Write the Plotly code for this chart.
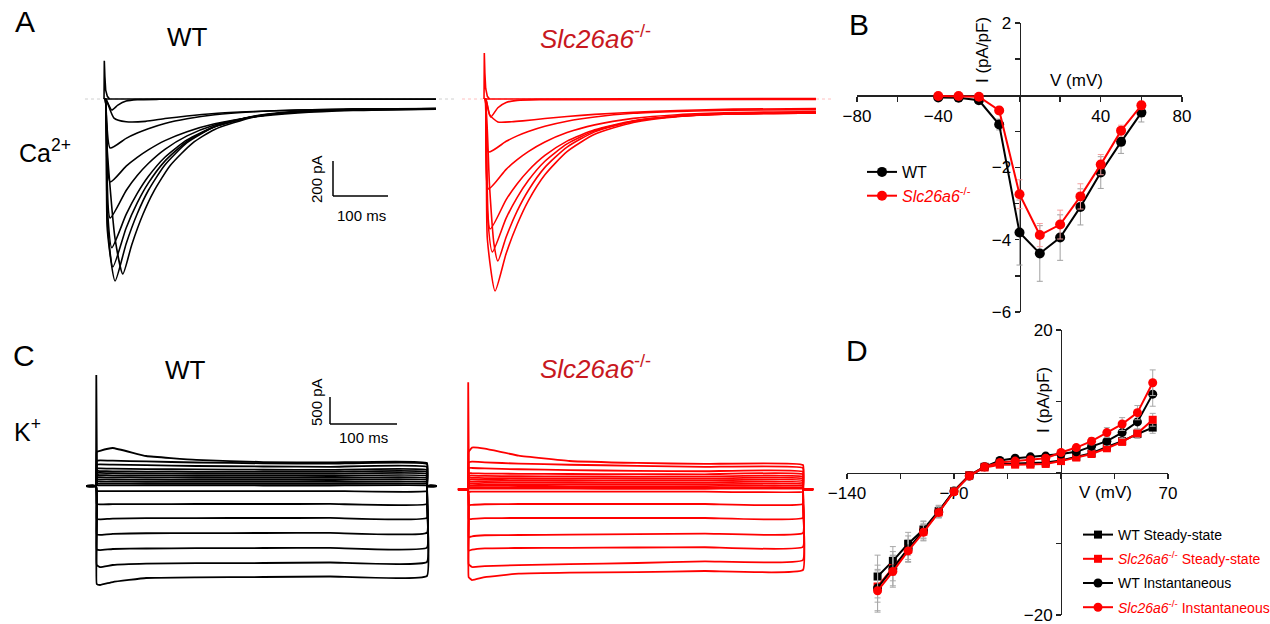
import plotly.graph_objects as go

# ---------------- data ----------------
# Panel A: Ca2+ current traces (time ms, current pA)
G = [40, 60, 80, 110, 150, 200, 270, 350, 450, 600]
CA_WT_T = [
    [0, 3, 20, 600],
    [0, 3, 14, 25, 40, 60, 100, 600],
    [0, 3, 18, 40, 75, 110, 150, 200, 270, 350, 450, 600],
    [0, 2, 11] + G,
    [0, 2, 11] + G,
    [0, 2, 11] + G,
    [0, 2, 6, 14] + G,
    [0, 2, 6, 16] + G,
    [0, 2, 6, 20] + G,
    [0, 2, 6, 20, 34, 50, 70, 90, 120, 160, 200, 270, 350, 450, 600],
]
CA_WT_I = [
    [0, 0, 0, 0],
    [0, 0, -63, -35, -12, -4, -2, -2],
    [0, 0, -109, -130, -128, -112, -97, -83, -72, -63, -58, -55],
    [0, 0, -280, -225, -195, -170, -140, -113, -90, -73, -63, -58, -56],
    [0, 0, -474, -384, -334, -291, -238, -187, -142, -103, -80, -66, -58],
    [0, 0, -680, -523, -438, -369, -288, -211, -149, -102, -76, -63, -57],
    [0, 0, -620, -850, -660, -540, -443, -333, -234, -158, -102, -74, -61, -56],
    [0, 0, -700, -960, -737, -594, -481, -355, -242, -159, -100, -73, -60, -56],
    [0, 0, -750, -1040, -827, -656, -523, -377, -250, -159, -99, -71, -60, -55],
    [0, 0, -300, -800, -1000, -834, -662, -528, -379, -252, -174, -104, -73, -61, -55],
]
CA_KO_T = [
    [0, 3, 20, 600],
    [0, 3, 12, 25, 40, 60, 100, 600],
    [0, 3, 10, 25, 50, 70, 110, 150, 200, 270, 350, 450, 600],
    [0, 2, 8] + G,
    [0, 2, 8] + G,
    [0, 2, 11] + G,
    [0, 2, 6, 15] + G,
    [0, 2, 10, 18, 25] + G,
    [0, 2, 6, 20] + G,
]
CA_KO_I = [
    [0, 0, 0, 3],
    [0, 0, -103, -50, -20, -8, -4, -3],
    [0, 0, -90, -131, -130, -125, -112, -100, -88, -76, -66, -58, -55],
    [0, 0, -303, -242, -211, -186, -156, -127, -103, -82, -71, -64, -61],
    [0, 0, -514, -402, -347, -301, -246, -192, -148, -111, -90, -78, -72],
    [0, 0, -743, -575, -484, -410, -323, -241, -176, -125, -98, -83, -77],
    [0, 0, -650, -874, -681, -562, -466, -356, -257, -182, -127, -99, -86, -80],
    [0, 0, -500, -830, -926, -789, -640, -523, -391, -275, -188, -127, -99, -86, -80],
    [0, 0, -800, -1097, -883, -716, -582, -433, -301, -202, -134, -101, -86, -80],
]
SPIKE_T = [0, 0.5, 1.5, 3, 6, 10]
SPIKE_WT = [0, 218, 130, 50, 15, 0]
SPIKE_KO = [0, 263, 150, 60, 15, 0]

# Panel C: K+ current traces (time ms, current pA)
K_T = [-15, 0, 1, 6, 25, 75, 150, 250, 350, 495, 495.5, 510]
K_WT = [
    [0, 0, -1835, -1854, -1798, -1723, -1710, -1704, -1695, -1685, 0, 0],
    [0, 0, -1479, -1517, -1479, -1455, -1445, -1442, -1432, -1423, 0, 0],
    [0, 0, -1186, -1200, -1180, -1170, -1165, -1161, -1158, -1155, 0, 0],
    [0, 0, -908, -915, -895, -885, -882, -880, -878, -875, 0, 0],
    [0, 0, -618, -625, -610, -603, -600, -599, -598, -596, 0, 0],
    [0, 0, -337, -345, -340, -338, -337, -337, -336, -335, 0, 0],
    [0, 0, -94, -96, -95, -94, -94, -94, -94, -94, 0, 0],
    [0, 0, 637, 660, 712, 562, 490, 449, 440, 431, 0, 0],
    [0, 0, 470, 480, 475, 460, 440, 425, 418, 412, 0, 0],
    [0, 0, 400, 405, 400, 390, 375, 365, 360, 356, 0, 0],
    [0, 0, 330, 330, 325, 318, 310, 305, 302, 300, 0, 0],
    [0, 0, 280, 280, 276, 270, 266, 264, 263, 262, 0, 0],
    [0, 0, 245, 245, 240, 234, 230, 228, 226, 225, 0, 0],
    [0, 0, 205, 205, 200, 195, 191, 189, 188, 187, 0, 0],
    [0, 0, 165, 165, 162, 158, 155, 152, 151, 150, 0, 0],
    [0, 0, 125, 125, 122, 118, 115, 114, 113, 112, 0, 0],
    [0, 0, 85, 85, 83, 80, 78, 77, 76, 75, 0, 0],
    [0, 0, 45, 45, 44, 42, 41, 41, 40, 40, 0, 0],
    [0, 0, 12, 12, 12, 11, 11, 10, 10, 10, 0, 0],
]
K_KO = [
    [0, 0, -1644, -1699, -1644, -1580, -1560, -1550, -1530, -1511, 0, 0],
    [0, 0, -1400, -1455, -1440, -1420, -1400, -1380, -1350, -1324, 0, 0],
    [0, 0, -1150, -1130, -1105, -1099, -1095, -1090, -1085, -1080, 0, 0],
    [0, 0, -900, -880, -860, -856, -850, -840, -830, -818, 0, 0],
    [0, 0, -560, -555, -540, -537, -537, -537, -537, -537, 0, 0],
    [0, 0, -300, -290, -280, -275, -275, -275, -275, -275, 0, 0],
    [0, 0, -45, -45, -45, -45, -45, -45, -45, -45, 0, 0],
    [0, 0, 700, 780, 760, 630, 530, 493, 475, 455, 0, 0],
    [0, 0, 498, 517, 505, 480, 460, 440, 420, 399, 0, 0],
    [0, 0, 400, 399, 390, 375, 360, 345, 338, 330, 0, 0],
    [0, 0, 300, 300, 295, 290, 286, 283, 281, 280, 0, 0],
    [0, 0, 255, 255, 250, 245, 241, 239, 237, 236, 0, 0],
    [0, 0, 215, 215, 211, 207, 204, 202, 201, 200, 0, 0],
    [0, 0, 180, 180, 176, 172, 169, 167, 166, 165, 0, 0],
    [0, 0, 140, 140, 137, 134, 132, 131, 130, 130, 0, 0],
    [0, 0, 100, 100, 98, 97, 96, 96, 95, 95, 0, 0],
    [0, 0, 65, 65, 63, 62, 61, 61, 60, 60, 0, 0],
    [0, 0, 35, 35, 33, 32, 31, 31, 30, 30, 0, 0],
    [0, 0, 12, 12, 12, 11, 11, 10, 10, 10, 0, 0],
]
KSPIKE_T = [0, 0.4, 1.5]
KSPIKE_WT = [0, 2079, 0]
KSPIKE_KO = [0, 2004, 0]

# Panel B: Ca2+ I-V
V_B = [-40, -30, -20, -10, 0, 10, 20, 30, 40, 50, 60]
B_WT = [-0.06, -0.07, -0.14, -0.81, -3.80, -4.38, -3.94, -3.09, -2.14, -1.29, -0.48]
B_WT_ERR = [0.03, 0.03, 0.05, 0.15, 0.9, 0.77, 0.63, 0.5, 0.44, 0.32, 0.26]
B_KO = [-0.02, -0.02, -0.04, -0.42, -2.74, -3.87, -3.58, -2.80, -1.92, -0.98, -0.28]
B_KO_ERR = [0.02, 0.02, 0.03, 0.1, 0.4, 0.32, 0.4, 0.35, 0.28, 0.15, 0.11]
B_XTICKS = [-80, -40, 40, 80]
B_XMINOR = [-60, -20, 0, 20, 60]
B_YTICKS = [-6, -4, -2, 2]
B_YMINOR = [-5, -3, -1, 0, 1]

# Panel D: K+ I-V
V_D = [-120, -110, -100, -90, -80, -70, -60, -50, -40, -30, -20, -10, 0, 10, 20, 30, 40, 50, 60]
D_WT_SS = [-14.6, -12.4, -10.0, -8.0, -5.4, -2.6, -0.4, 0.8, 1.2, 1.3, 1.3, 1.4, 1.7, 2.2, 2.7, 3.6, 4.4, 5.4, 6.3]
D_KO_SS = [-16.0, -13.4, -10.8, -8.3, -5.6, -2.6, -0.4, 0.7, 1.1, 1.1, 1.1, 1.2, 1.6, 2.1, 2.6, 3.4, 4.3, 5.5, 7.4]
D_WT_IN = [-16.2, -13.5, -10.7, -8.2, -5.5, -2.6, -0.5, 0.8, 1.7, 2.0, 2.2, 2.3, 2.6, 2.9, 3.7, 4.4, 5.6, 7.1, 11.0]
D_KO_IN = [-16.6, -13.9, -11.0, -8.4, -5.6, -2.7, -0.5, 0.8, 1.4, 1.6, 1.8, 2.0, 2.8, 3.5, 4.4, 5.6, 6.8, 8.4, 12.6]
D_WT_SS_ERR = [3.0, 2.0, 1.6, 1.2, 0.8, 0.5, 0.3, 0.3, 0.3, 0.3, 0.3, 0.3, 0.3, 0.3, 0.3, 0.4, 0.5, 0.6, 0.8]
D_KO_SS_ERR = [2.2, 1.8, 1.4, 1.0, 0.7, 0.5, 0.3, 0.3, 0.3, 0.3, 0.3, 0.3, 0.3, 0.3, 0.3, 0.4, 0.5, 0.6, 0.9]
D_WT_IN_ERR = [3.2, 2.4, 1.8, 1.3, 0.8, 0.5, 0.3, 0.3, 0.3, 0.3, 0.3, 0.3, 0.3, 0.4, 0.5, 0.6, 0.8, 1.0, 1.7]
D_KO_IN_ERR = [3.0, 2.2, 1.6, 1.2, 0.8, 0.5, 0.3, 0.3, 0.3, 0.3, 0.3, 0.3, 0.3, 0.4, 0.5, 0.7, 0.9, 1.0, 1.8]
D_XTICKS = [-140, -70, 70]
D_XMINOR = [-105, -35, 0, 35]
D_YTICKS = [-20, 20]
D_YMINOR = [-10, 0, 10]

KO_NAME = "<i>Slc26a6</i><sup>-/-</sup>"

# ---------------- layout helpers ----------------
W, H = 1270, 624
FONT = "Liberation Sans, Arial, sans-serif"
RED = "#ff0000"
DARKRED = "#c8181e"


def px(x):
    return x / W


def py(y):
    return 1 - y / H


def xdom(a, b):
    return [px(a), px(b)]


def ydom(top, bottom):
    return [py(bottom), py(top)]


fig = go.Figure()

# Panel A traces
for t, i in zip(CA_WT_T, CA_WT_I):
    fig.add_trace(go.Scatter(x=t, y=i, mode="lines", xaxis="x", yaxis="y",
                             line=dict(color="#000", width=1.6, shape="spline", smoothing=0.6),
                             showlegend=False, hoverinfo="skip"))
fig.add_trace(go.Scatter(x=SPIKE_T, y=SPIKE_WT, mode="lines", xaxis="x", yaxis="y",
                         line=dict(color="#000", width=1.6), showlegend=False, hoverinfo="skip"))
for t, i in zip(CA_KO_T, CA_KO_I):
    fig.add_trace(go.Scatter(x=t, y=i, mode="lines", xaxis="x2", yaxis="y2",
                             line=dict(color=RED, width=1.6, shape="spline", smoothing=0.6),
                             showlegend=False, hoverinfo="skip"))
fig.add_trace(go.Scatter(x=SPIKE_T, y=SPIKE_KO, mode="lines", xaxis="x2", yaxis="y2",
                         line=dict(color=RED, width=1.6), showlegend=False, hoverinfo="skip"))

# Panel C traces
for i in K_WT:
    fig.add_trace(go.Scatter(x=K_T, y=i, mode="lines", xaxis="x4", yaxis="y4",
                             line=dict(color="#000", width=1.8, shape="spline", smoothing=0.3),
                             showlegend=False, hoverinfo="skip"))
fig.add_trace(go.Scatter(x=KSPIKE_T, y=KSPIKE_WT, mode="lines", xaxis="x4", yaxis="y4",
                         line=dict(color="#000", width=1.8), showlegend=False, hoverinfo="skip"))
for i in K_KO:
    fig.add_trace(go.Scatter(x=K_T, y=i, mode="lines", xaxis="x5", yaxis="y5",
                             line=dict(color=RED, width=1.8, shape="spline", smoothing=0.3),
                             showlegend=False, hoverinfo="skip"))
fig.add_trace(go.Scatter(x=KSPIKE_T, y=KSPIKE_KO, mode="lines", xaxis="x5", yaxis="y5",
                         line=dict(color=RED, width=1.8), showlegend=False, hoverinfo="skip"))

# Panel B
fig.add_trace(go.Scatter(x=V_B, y=B_WT, mode="lines+markers", xaxis="x3", yaxis="y3",
                         name="WT", legend="legend",
                         line=dict(color="#000", width=2), marker=dict(size=10, color="#000"),
                         error_y=dict(type="data", array=B_WT_ERR, color="#a0a0a0", thickness=1, width=3)))
fig.add_trace(go.Scatter(x=V_B, y=B_KO, mode="lines+markers", xaxis="x3", yaxis="y3",
                         name="<span style='color:#ff0000'>" + KO_NAME + "</span>", legend="legend",
                         line=dict(color=RED, width=2), marker=dict(size=10, color=RED),
                         error_y=dict(type="data", array=B_KO_ERR, color="#f4a0a0", thickness=1, width=3)))

# Panel D
d_series = [
    (D_WT_SS, D_WT_SS_ERR, "#000", "square", 8, "WT Steady-state"),
    (D_KO_SS, D_KO_SS_ERR, RED, "square", 8, "<span style='color:#ff0000'>" + KO_NAME + " Steady-state</span>"),
    (D_WT_IN, D_WT_IN_ERR, "#000", "circle", 9, "WT Instantaneous"),
    (D_KO_IN, D_KO_IN_ERR, RED, "circle", 9, "<span style='color:#ff0000'>" + KO_NAME + " Instantaneous</span>"),
]
for k, (vals, err, col, sym, sz, nm) in enumerate(d_series):
    fig.add_trace(go.Scatter(x=V_D, y=vals, mode="lines+markers", xaxis="x6", yaxis="y6",
                             name=nm, legend="legend2", legendgroup="g%d" % k,
                             line=dict(color=col, width=2), marker=dict(size=sz, color=col, symbol=sym),
                             error_y=dict(type="data", array=err, color="#a8a8a8", thickness=1, width=3)))

hidden = dict(visible=False, showgrid=False, zeroline=False, fixedrange=True)

# I-V axis geometry (pixels)
B_X0, B_X1, B_YT, B_YB = 857, 1182, 23, 312
D_X0, D_X1, D_YT, D_YB = 847, 1168, 330, 615
b_zero_y = B_YT + (B_YB - B_YT) * 2 / 8
b_zero_x = (B_X0 + B_X1) / 2
d_zero_y = (D_YT + D_YB) / 2
d_zero_x = D_X0 + (D_X1 - D_X0) * 140 / 210

iv_axis = dict(showline=True, linecolor="#222", linewidth=1.3, ticks="outside", ticklen=5,
               tickwidth=1.3, tickcolor="#222", showgrid=False, zeroline=False,
               tickfont=dict(size=17, color="#000", family=FONT), layer="below traces",
               fixedrange=True, anchor="free", tickmode="array", ticklabeloverflow="allow")


def minor(vals):
    return dict(tickmode="array", tickvals=vals, ticks="outside", ticklen=5, tickwidth=1.3,
                tickcolor="#222", showgrid=False)


fig.update_layout(
    width=W, height=H, margin=dict(l=0, r=0, t=0, b=0, pad=0, autoexpand=False),
    paper_bgcolor="white", plot_bgcolor="rgba(0,0,0,0)",
    font=dict(family=FONT, color="#000"),
    xaxis=dict(hidden, domain=xdom(98.5, 441.5), range=[-10, 610], anchor="y"),
    yaxis=dict(hidden, domain=ydom(40, 310), range=[-1206, 337], anchor="x"),
    xaxis2=dict(hidden, domain=xdom(478.5, 821.5), range=[-10, 610], anchor="y2"),
    yaxis2=dict(hidden, domain=ydom(40, 310), range=[-1206, 337], anchor="x2"),
    xaxis4=dict(hidden, domain=xdom(86, 437), range=[-15, 510], anchor="y4"),
    yaxis4=dict(hidden, domain=ydom(360, 610), range=[-2322, 2360], anchor="x4"),
    xaxis5=dict(hidden, domain=xdom(457.8, 814.5), range=[-15, 512], anchor="y5"),
    yaxis5=dict(hidden, domain=ydom(360, 610), range=[-2260, 2421], anchor="x5"),
    xaxis3=dict(iv_axis, domain=xdom(B_X0, B_X1), range=[-80, 80], position=py(b_zero_y),
                tickvals=B_XTICKS, minor=minor(B_XMINOR)),
    yaxis3=dict(iv_axis, domain=ydom(B_YT, B_YB), range=[-6, 2], position=px(b_zero_x),
                tickvals=B_YTICKS, minor=minor(B_YMINOR)),
    xaxis6=dict(iv_axis, domain=xdom(D_X0, D_X1), range=[-140, 70], position=py(d_zero_y),
                tickvals=D_XTICKS, minor=minor(D_XMINOR)),
    yaxis6=dict(iv_axis, domain=ydom(D_YT, D_YB), range=[-20, 20], position=px(d_zero_x),
                tickvals=D_YTICKS, minor=minor(D_YMINOR)),
    legend=dict(x=px(862), y=py(155), xanchor="left", yanchor="top",
                font=dict(size=16, family=FONT, color="#000"), bgcolor="rgba(0,0,0,0)",
                itemwidth=30, tracegroupgap=0),
    legend2=dict(x=px(1078), y=py(519), xanchor="left", yanchor="top",
                 font=dict(size=14, family=FONT, color="#000"), bgcolor="rgba(0,0,0,0)",
                 traceorder="grouped", tracegroupgap=3, itemwidth=30),
)

# scale bars & baselines
shapes = [
    dict(type="line", xref="paper", yref="paper", x0=px(333), x1=px(333), y0=py(161), y1=py(196),
         line=dict(color="#000", width=1.5)),
    dict(type="line", xref="paper", yref="paper", x0=px(333), x1=px(388), y0=py(196), y1=py(196),
         line=dict(color="#000", width=1.5)),
    dict(type="line", xref="paper", yref="paper", x0=px(330), x1=px(330), y0=py(397), y1=py(424),
         line=dict(color="#000", width=1.5)),
    dict(type="line", xref="paper", yref="paper", x0=px(330), x1=px(397), y0=py(424), y1=py(424),
         line=dict(color="#000", width=1.5)),
    dict(type="line", xref="paper", yref="paper", x0=px(85), x1=px(455), y0=py(99), y1=py(99),
         line=dict(color="#d0d0d0", width=1, dash="dot"), layer="below"),
    dict(type="line", xref="paper", yref="paper", x0=px(462), x1=px(832), y0=py(99), y1=py(99),
         line=dict(color="#ffc0c0", width=1, dash="dot"), layer="below"),
]
fig.update_layout(shapes=shapes)


def ann(text, x, y, size, color="#000", angle=0, xanchor="center"):
    return dict(text=text, x=px(x), y=py(y), xref="paper", yref="paper", showarrow=False,
                xanchor=xanchor, yanchor="middle", textangle=angle,
                font=dict(size=size, color=color, family=FONT))


annotations = [
    ann("A", 25, 22, 30), ann("B", 859, 25, 30), ann("C", 24, 355, 30), ann("D", 857, 350, 30),
    ann("WT", 187, 37, 26), ann("<i>Slc26a6</i><sup>-/-</sup>", 595, 37, 26, DARKRED),
    ann("WT", 185, 370, 26), ann("<i>Slc26a6</i><sup>-/-</sup>", 595, 367, 26, DARKRED),
    ann("Ca<sup>2+</sup>", 45, 151, 25), ann("K<sup>+</sup>", 27, 430, 25),
    ann("200 pA", 316, 179, 15, angle=-90), ann("100 ms", 361, 215, 15),
    ann("500 pA", 316, 402, 15, angle=-90), ann("100 ms", 363, 438, 15),
    ann("I (pA/pF)", 982, 50, 17, angle=-90), ann("V (mV)", 1076, 81, 17),
    ann("I (pA/pF)", 1043, 400, 17, angle=-90), ann("V (mV)", 1105, 492, 17),
]
fig.update_layout(annotations=annotations)

fig.write_html("out.html", config={"displayModeBar": False, "staticPlot": True},
               post_script="document.body.style.margin='0';document.body.style.overflow='hidden';")
